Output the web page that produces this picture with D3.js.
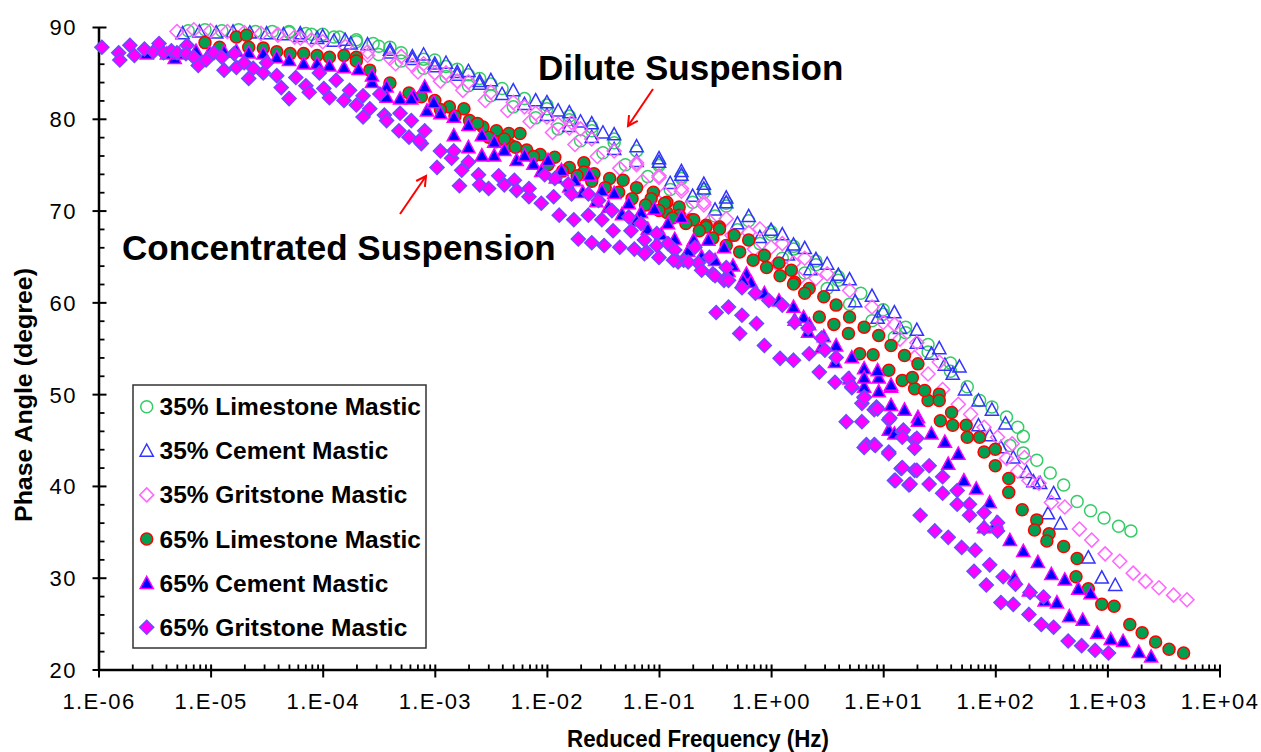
<!DOCTYPE html>
<html><head><meta charset="utf-8">
<script src="https://cdn.jsdelivr.net/npm/d3@7"></script>
<style>
body{margin:0;background:#fff}
svg{display:block}
text{font-family:"Liberation Sans",Arial,sans-serif}
</style>
</head><body>
<svg id="chart" width="1261" height="752"></svg>
<script>
// ---- DATA: each point = [log10(reduced frequency, Hz), phase angle (degree)] ----
const lime35 = [
[-5.2,89.6],[-5.05,89.7],[-4.9,89.6],[-4.75,89.7],[-4.6,89.5],[-4.45,89.5],[-4.3,89.4],[-4.15,89.3],[-4.0,89.2],[-3.85,88.9],[-3.7,88.6],[-3.55,88.2],[-3.4,87.8],
[-4.3,89.5],[-4.1,89.2],[-3.9,88.9],[-3.7,88.4],[-3.5,87.9],[-3.3,87.2],[-3.1,86.5],[-2.9,85.7],[-2.7,84.8],[-2.5,83.8],
[-3.0,86.4],[-2.8,85.4],[-2.6,84.4],[-2.4,83.3],[-2.2,82.2],[-2.0,81.1],[-1.8,79.9],[-1.6,78.7],[-1.4,77.4],
[-2.0,81.5],[-1.8,80.3],[-1.6,79.1],[-1.4,77.8],[-1.2,76.5],[-1.0,75.1],[-0.8,73.7],[-0.6,72.3],[-0.4,70.8],
[-1.0,74.9],[-0.8,73.5],[-0.6,72.0],[-0.4,70.5],[-0.2,68.9],[0.0,67.4],[0.2,65.8],[0.4,64.1],[0.6,62.4],
[0.0,67.7],[0.2,66.1],[0.4,64.5],[0.6,62.8],[0.8,61.0],[1.0,59.2],[1.2,57.3],[1.4,55.4],[1.6,53.4],
[1.0,58.7],[1.2,56.7],[1.4,54.6],[1.6,52.5],[1.75,50.8],[1.86,49.3],[1.97,48.6],[2.1,47.5],[2.2,46.4],[2.25,45.4],
[2.13,44.4],[2.25,43.6],[2.37,42.8],[2.49,41.4],[2.61,40.1],[2.73,38.3],[2.85,37.3],[2.97,36.5],[3.10,35.6],[3.21,35.1],
[-3.5,87.0],[-3.3,86.3],[-3.1,85.5],[-2.9,84.6],[-2.7,83.6],[-2.5,82.5],[-2.3,81.3],[-2.1,80.1],[-1.9,78.9],[-1.7,77.6],[-1.5,76.3],[-1.3,75.0],[-1.1,73.7],[-0.9,72.3],[-0.7,70.9],[-0.5,69.4],[-0.3,67.9],[-0.1,66.4],[0.1,64.8],[0.3,63.2],[0.5,61.5],[0.7,59.8],[0.9,58.0],[1.1,56.2]
];
const cem35 = [
[-5.25,89.3],[-5.1,89.5],[-4.95,89.4],[-4.8,89.5],[-4.65,89.4],[-4.5,89.3],[-4.35,89.2],[-4.2,89.0],[-4.05,88.8],[-3.9,88.5],[-3.75,88.2],
[-4.2,89.3],[-4.0,89.0],[-3.8,88.6],[-3.6,88.1],[-3.4,87.5],[-3.2,86.8],[-3.0,86.0],[-2.8,85.1],[-2.6,84.1],
[-3.1,87.0],[-2.9,86.1],[-2.7,85.2],[-2.5,84.2],[-2.3,83.1],[-2.1,82.0],[-1.9,80.9],[-1.7,79.7],[-1.5,78.5],
[-2.0,81.8],[-1.8,80.7],[-1.6,79.5],[-1.4,78.3],[-1.2,77.0],[-1.0,75.7],[-0.8,74.3],[-0.6,72.9],[-0.4,71.4],
[-1.0,75.3],[-0.8,73.9],[-0.6,72.4],[-0.4,70.9],[-0.2,69.4],[0.0,67.9],[0.2,66.3],[0.4,64.7],[0.6,63.0],
[0.1,67.4],[0.3,65.9],[0.5,64.2],[0.7,62.5],[0.9,60.7],[1.1,58.9],[1.3,57.0],[1.5,55.0],[1.68,53.0],
[1.0,59.0],[1.15,57.2],[1.3,55.6],[1.43,54.4],[1.55,53.2],[1.62,52.2],[1.73,50.5],[1.85,49.3],[1.97,48.3],[2.09,46.8],
[1.85,46.6],[1.95,45.5],[2.05,44.2],[2.16,43.1],[2.28,41.5],[2.34,40.5],[2.40,40.3],[2.52,39.2],
[2.47,37.0],[2.58,35.9],[2.83,32.2],[2.95,30.0],[3.07,29.2],
[-3.4,87.2],[-3.2,86.5],[-3.0,85.7],[-2.8,84.8],[-2.6,83.8],[-2.4,82.7],[-2.2,81.6],[-2.0,80.4],[-1.8,79.2],[-1.6,78.0],[-1.4,76.7],[-1.2,75.4],[-0.9,73.0],[-0.7,71.6],[-0.5,70.1],[-0.3,68.6],[-0.1,67.1],[0.15,65.2],[0.35,63.6],[0.55,61.9],[0.75,60.1],[0.95,58.3]
];
const grit35 = [
[-5.3,89.5],[-5.15,89.7],[-5.0,89.6],[-4.85,89.5],[-4.7,89.4],[-4.55,89.3],[-4.4,89.1],[-4.25,88.9],[-4.1,88.6],
[-4.4,89.2],[-4.2,88.8],[-4.0,88.4],[-3.8,87.9],[-3.6,87.3],[-3.4,86.6],[-3.2,85.8],[-3.0,85.0],[-2.8,84.1],
[-3.3,86.8],[-3.1,86.0],[-2.9,85.0],[-2.7,84.0],[-2.5,82.9],[-2.3,81.8],[-2.1,80.6],[-1.9,79.4],[-1.78,79.6],[-1.7,78.9],
[-2.2,81.3],[-2.0,80.2],[-1.8,79.0],[-1.6,77.8],[-1.4,76.5],[-1.2,75.2],[-1.0,73.8],[-0.8,72.4],[-0.6,70.9],
[-1.2,75.0],[-1.0,73.6],[-0.8,72.1],[-0.6,70.6],[-0.4,69.1],[-0.2,67.6],[0.0,66.0],[0.2,64.3],[0.4,62.6],
[-0.1,68.0],[0.1,66.4],[0.3,64.8],[0.5,63.1],[0.7,61.3],[0.9,59.5],[1.1,57.6],[1.3,55.6],[1.5,53.5],
[1.0,57.8],[1.15,56.0],[1.28,54.0],[1.40,52.2],[1.53,50.5],[1.67,48.9],[1.78,47.8],[1.9,46.4],[2.02,45.3],[2.15,44.6],[2.26,43.1],
[2.1,43.0],[2.2,41.6],[2.3,40.6],[2.39,40.3],[2.5,38.2],[2.62,37.7],[2.75,35.3],[2.86,34.1],[2.98,32.6],[3.11,31.8],[3.23,30.5],[3.34,29.6],[3.46,28.9],[3.59,28.1],[3.71,27.6],
[-3.6,86.9],[-3.35,86.0],[-3.15,85.1],[-2.95,84.1],[-2.75,83.1],[-2.55,82.0],[-2.35,80.9],[-2.15,79.7],[-1.95,78.5],[-1.75,77.2],[-1.55,75.9],[-1.35,74.6],[-1.15,73.2],[-0.95,71.8],[-0.75,70.3],[-0.55,68.8],[-0.35,67.3],[-0.15,65.8],[0.05,64.2],[0.25,62.6]
];
const lime65 = [
[-5.05,88.3],[-4.92,87.8],[-4.77,88.9],[-4.68,89.1],[-4.66,87.8],[-4.53,87.7],[-4.41,87.3],[-4.29,87.1],[-4.17,87.1],[-4.05,86.9],[-3.94,86.7],[-3.81,86.9],[-3.70,86.7],[-3.70,86.3],
[-3.58,85.3],[-3.40,83.9],[-3.23,82.8],[-3.12,82.4],[-3.0,82.0],[-2.87,81.3],[-2.74,81.1],[-2.69,79.8],[-2.57,79.1],[-2.45,78.7],[-2.34,78.4],[-2.24,78.4],
[-2.45,77.5],[-2.32,77.1],[-2.18,76.6],[-2.06,76.1],[-1.93,75.8],[-1.80,74.7],[-1.67,75.2],[-1.67,74.2],[-1.58,74.0],[-1.44,73.5],[-1.32,73.3],[-1.20,72.5],[-1.05,72.0],[-0.93,70.9],[-0.82,70.4],[-0.71,69.0],[-0.58,68.4],[-0.46,68.2],
[-0.93,69.8],[-0.82,69.5],[-1.07,71.3],[-0.95,70.8],
[-0.69,69.0],[-0.58,68.2],[-0.46,68.0],[-0.33,67.3],[-0.20,66.8],[-0.06,65.1],[0.07,64.3],[0.18,63.5],[0.21,62.2],[0.34,61.5],[0.47,60.6],[0.58,59.7],[0.70,58.4],[0.83,57.3],[0.96,56.4],[1.07,55.3],[1.19,54.2],[1.31,53.3],
[0.43,58.4],[0.56,57.6],[0.69,56.6],[0.79,54.4],[0.91,54.3],[1.05,52.6],[1.17,51.5],[1.28,50.6],[1.40,49.3],[1.51,47.1],[1.62,46.6],[1.75,45.3],[1.90,43.7],
[1.26,51.8],[1.37,50.4],[1.50,50.0],[1.50,49.3],[1.61,48.0],[1.74,46.6],[1.86,45.3],[2.0,44.0],[2.0,42.2],[2.12,40.8],[2.12,39.3],[2.24,37.4],[2.37,36.3],[2.35,35.2],[2.48,34.8],[2.46,34.0],[2.61,33.4],[2.73,32.1],[2.72,30.1],[2.83,28.8],[2.95,27.1],[3.06,26.9],[3.20,24.9],[3.31,24.0],[3.43,23.0],[3.55,22.2],[3.68,21.8],
[-2.95,81.0],[-2.82,80.3],[-2.62,79.5],[-2.52,78.0],[-2.38,77.8],[-2.28,76.9],[-2.12,75.9],[-1.99,75.0],[-1.86,74.3],[-1.73,73.8],[-1.60,73.2],[-1.48,72.5],[-1.36,72.0],[-1.24,71.3],[-1.12,70.6],[-1.00,70.0],[-0.88,69.2],[-0.76,68.6],[-0.64,67.8],[-0.52,67.0],[-0.40,66.2],[-0.28,65.5],[-0.16,64.6],[-0.04,63.8],[0.08,62.9],[0.20,62.0],[0.30,61.0]
];
const cem65 = [
[-5.57,87.1],[-5.39,87.1],[-5.32,86.6],[-5.28,87.1],[-5.13,87.4],[-5.01,87.2],[-4.88,87.3],[-4.77,87.4],[-4.66,87.2],[-4.53,87.1],[-4.41,86.7],[-4.30,86.4],[-4.17,86.0],[-4.05,86.0],[-3.94,85.8],[-3.81,85.6],[-3.68,85.4],
[-3.56,84.0],[-3.56,84.7],[-3.43,83.5],[-3.43,82.4],[-3.31,82.2],[-3.19,82.5],[-3.09,83.5],[-3.21,82.2],[-3.07,80.9],[-3.01,81.8],[-2.95,80.6],[-2.83,80.2],[-2.83,78.2],[-2.70,79.3],[-2.70,76.9],[-2.58,78.2],[-2.47,77.5],[-2.47,76.0],[-2.58,76.0],
[-2.27,75.5],[-2.12,75.1],[-1.99,75.5],[-1.87,74.4],[-1.75,73.3],[-1.62,73.9],[-1.51,72.2],[-1.40,71.9],[-1.27,70.8],[-1.16,69.8],[-1.04,70.2],[-0.92,68.6],[-0.80,69.3],[-0.69,66.8],[-0.56,66.8],[-0.42,66.0],
[-0.34,64.0],[-0.22,63.1],[-0.18,62.2],[-0.06,61.0],[0.07,60.2],[0.20,59.5],[0.29,58.4],[0.34,57.6],[0.47,56.3],[0.58,55.3],[0.72,54.0],[0.83,52.8],[0.96,51.8],[1.07,50.8],[1.19,48.3],[1.31,47.5],
[0.21,58.1],[0.33,56.8],[0.45,55.1],[0.57,53.5],[0.70,51.7],[0.83,50.8],[0.96,50.3],[1.07,48.8],[1.05,46.1],[1.10,45.7],
[0.83,51.8],[0.95,52.6],[1.07,51.0],[1.31,47.1],[1.43,45.7],[1.55,44.8],[1.67,43.5],[1.58,42.4],[1.72,40.6],[1.83,39.7],[1.95,38.2],[2.01,36.0],[2.13,34.1],[2.25,32.9],[2.38,31.7],[2.50,30.4],[2.62,29.8],[2.74,28.8],[2.85,28.3],
[1.90,35.5],[2.17,30.0],[2.30,28.6],[2.44,27.5],[2.55,27.3],[2.66,25.8],[2.78,25.4],[2.91,24.0],[3.03,23.3],[3.14,23.1],[3.28,21.9],[3.39,21.4],
[-2.38,76.6],[-2.20,76.0],[-2.05,74.3],[-1.92,73.6],[-1.80,72.6],[-1.68,72.0],[-1.56,71.0],[-1.45,70.4],[-1.33,69.6],[-1.20,68.9],[-1.10,68.0],[-0.98,67.4],[-0.86,66.9],[-0.74,65.6],[-0.62,65.0],[-0.50,64.6],[-0.38,63.4],[-0.25,62.4]
];
const grit65 = [
[-5.97,87.8],[-5.82,87.2],[-5.81,86.4],[-5.72,88.0],[-5.68,86.9],[-5.59,87.6],[-5.51,87.3],[-5.46,88.2],[-5.42,87.2],[-5.35,87.4],[-5.30,87.2],[-5.21,88.0],[-5.22,87.1],[-5.15,86.7],[-5.11,85.8],[-5.04,86.4],[-4.97,87.2],[-4.90,86.7],[-4.88,85.3],[-4.79,87.1],[-4.77,85.6],[-4.70,86.1],[-4.66,84.4],[-4.62,85.5],[-4.53,85.0],[-4.50,86.1],[-4.41,84.7],[-4.37,83.4],[-4.30,82.2],[-4.24,84.5],[-4.15,83.6],[-4.12,82.9],[-4.03,85.0],[-3.99,83.3],[-3.94,82.3],[-3.88,84.2],[-3.81,82.0],[-3.76,83.1],[-3.70,81.5],[-3.64,82.5],[-3.64,80.2],[-3.58,81.1],[-3.49,82.7],[-3.45,80.4],[-3.43,79.8],[-3.32,78.7],[-3.31,80.6],[-3.23,78.0],[-3.21,79.8],[-3.12,77.3],[-3.09,78.7],
[-3.14,77.6],[-2.98,74.7],[-2.95,76.5],[-2.85,75.7],[-2.83,76.5],[-2.76,74.4],[-2.78,72.7],[-2.70,75.3],[-2.61,73.9],[-2.60,72.8],[-2.52,72.4],[-2.43,73.8],[-2.38,72.8],[-2.29,73.3],[-2.27,72.2],[-2.16,71.5],[-2.16,72.4],[-2.05,70.8],[-2.02,73.9],[-1.93,73.5],[-1.94,71.5],[-1.81,72.9],[-1.78,71.8],[-1.89,69.5],[-1.76,69.0],[-1.63,69.5],[-1.63,71.8],[-1.54,71.1],[-1.51,69.0],[-1.42,70.0],[-1.41,67.8],[-1.27,69.3],[-1.25,67.8],[-1.16,68.6],[-1.13,66.8],[-1.02,67.5],[-1.02,66.2],[-0.92,66.4],[-0.86,65.7],[-0.78,64.6],[-0.68,66.0],[-0.65,64.3],[-0.55,64.9],[-0.52,63.1],[-0.42,62.4],[-0.40,63.8],
[-1.72,66.9],[-1.60,66.5],[-1.49,66.2],[-1.35,66.0],[-1.22,65.8],[-1.11,65.5],[-1.00,64.9],[-0.83,64.4],
[-1.13,65.3],[-0.87,64.6],[-0.74,64.4],[-0.62,63.5],[-0.50,62.9],[-0.38,62.4],[-0.26,61.6],[-0.14,61.0],[-0.02,60.2],[0.10,59.7],[0.21,57.8],[0.33,57.2],[0.45,56.1],[0.48,54.8],[0.58,54.0],[0.69,51.7],[0.72,50.7],[0.83,49.7],[0.94,48.6],[0.81,49.0],[0.92,48.3],[1.05,47.2],[1.17,45.9],[1.28,45.0],
[-0.49,58.9],[-0.38,59.5],[-0.28,56.6],[-0.26,58.6],[-0.13,57.7],[-0.06,55.3],[0.08,53.9],[0.20,53.7],[0.34,54.4],[0.43,52.4],[0.57,51.3],[0.67,47.0],[0.81,47.0],[0.85,44.5],[0.92,44.5],[1.05,43.7],[1.16,41.9],[1.28,41.7],[1.10,40.6],[1.23,40.1],
[0.72,50.8],[0.83,49.6],[0.95,48.4],[1.06,47.4],[1.18,46.1],[1.17,45.3],[1.30,45.2],[1.28,44.1],[1.41,42.2],[1.53,41.0],[1.66,39.5],[1.77,38.0],[1.90,37.1],[2.02,36.0],[2.02,35.1],
[0.83,44.2],[0.93,44.4],[1.05,43.5],[1.17,42.0],[1.11,40.6],[1.24,40.2],[1.30,41.7],[1.41,40.2],[1.53,39.2],[1.66,38.0],[1.77,36.8],[1.90,35.4],
[1.33,36.8],[1.46,35.1],[1.58,34.4],[1.70,33.3],[1.82,33.0],[1.81,30.7],[1.92,29.2],[1.95,31.4],[2.07,30.1],[2.18,29.3],[2.31,28.4],[2.43,27.9],[2.05,27.3],[2.16,27.1],[2.30,26.0],[2.41,24.9],[2.52,24.6],[2.65,23.1],[2.77,22.6],[2.89,22.1],[3.01,21.8]
];

const seriesNames = ["35% Limestone Mastic","35% Cement Mastic","35% Gritstone Mastic","65% Limestone Mastic","65% Cement Mastic","65% Gritstone Mastic"];
const seriesData = [lime35, cem35, grit35, lime65, cem65, grit65];
const xTickValues = [1e-6,1e-5,1e-4,1e-3,1e-2,1e-1,1e0,1e1,1e2,1e3,1e4];
const xTickLabels = ["1.E-06","1.E-05","1.E-04","1.E-03","1.E-02","1.E-01","1.E+00","1.E+01","1.E+02","1.E+03","1.E+04"];
const yTickValues = [20,30,40,50,60,70,80,90];
const xTitle = "Reduced Frequency (Hz)";
const yTitle = "Phase Angle (degree)";
const noteDilute = "Dilute Suspension";
const noteConc = "Concentrated Suspension";

// ---- STYLES ----
const styles = [
  {shape:"circle",  fill:"none",    stroke:"#33cc66"},
  {shape:"triangle",fill:"none",    stroke:"#3333ff"},
  {shape:"diamond", fill:"none",    stroke:"#ff66ff"},
  {shape:"circle",  fill:"#00a050", stroke:"#ff0000"},
  {shape:"triangle",fill:"#0000ff", stroke:"#ff00ff"},
  {shape:"diamond", fill:"#ff00ff", stroke:"#6a4cff"}
];
function shapePath(s){
  if(s==="circle") return "M6,0A6,6 0 1,1 -6,0A6,6 0 1,1 6,0Z";
  if(s==="triangle") return "M0,-6.8L6.6,5.4L-6.6,5.4Z";
  return "M0,-7L7,0L0,7L-7,0Z";
}

const svg = d3.select("#chart");
const X0=98.5, X1=1219.5, Y0=669.5, Y1=27;
const x = d3.scaleLog().domain([1e-6,1e4]).range([X0,X1]);
const y = d3.scaleLinear().domain([20,90]).range([Y0,Y1]);

// minor ticks
const xMinor=[];
for(let e=-6;e<4;e++){ for(let m=2;m<=9;m++) xMinor.push(m*Math.pow(10,e)); }
const yMinor=d3.range(22,90,2).filter(v=>v%10!==0);

const gx = svg.append("g").attr("transform",`translate(0,${Y0})`);
gx.call(d3.axisBottom(x).tickValues(xMinor).tickSize(-5).tickSizeOuter(0).tickFormat(""));
gx.selectAll(".tick line").attr("stroke","#000").attr("stroke-width",1.8);
gx.select(".domain").remove();
const gx2 = svg.append("g").attr("transform",`translate(0,${Y0})`);
gx2.call(d3.axisBottom(x).tickValues(xTickValues).tickSize(8).tickSizeOuter(0).tickFormat((d,i)=>xTickLabels[i]));
gx2.selectAll(".tick line").attr("y1",-5).attr("stroke","#000").attr("stroke-width",2);
gx2.selectAll(".tick text").attr("y",39.5).attr("dy",0).attr("fill","#000")
   .style("font-size","22px").style("letter-spacing","1.4px");
gx2.select(".domain").attr("stroke","#000").attr("stroke-width",2.5);

const gy = svg.append("g").attr("transform",`translate(${X0},0)`);
gy.call(d3.axisLeft(y).tickValues(yMinor).tickSize(-6).tickSizeOuter(0).tickFormat(""));
gy.selectAll(".tick line").attr("stroke","#000").attr("stroke-width",1.8);
gy.select(".domain").remove();
const gy2 = svg.append("g").attr("transform",`translate(${X0},0)`);
gy2.call(d3.axisLeft(y).tickValues(yTickValues).tickSize(6).tickSizeOuter(0).tickFormat(d3.format("d")));
gy2.selectAll(".tick line").attr("x1",8).attr("stroke","#000").attr("stroke-width",2);
gy2.selectAll(".tick text").attr("x",-21.5).attr("dy","0.36em").attr("fill","#000")
   .style("font-size","22px").style("letter-spacing","1.5px");
gy2.select(".domain").attr("stroke","#000").attr("stroke-width",2.5);
svg.selectAll("g").attr("font-family",null).attr("font-size",null);

// titles
svg.append("text").attr("x",698).attr("y",747).attr("text-anchor","middle")
  .attr("font-weight","bold").style("font-size","24px")
  .attr("textLength",262).attr("lengthAdjust","spacingAndGlyphs").text(xTitle);
svg.append("text").attr("transform","translate(32,395) rotate(-90)").attr("text-anchor","middle")
  .attr("font-weight","bold").style("font-size","24px")
  .attr("textLength",254).attr("lengthAdjust","spacingAndGlyphs").text(yTitle);

// points
const plot = svg.append("g");
seriesData.forEach((data,i)=>{
  const st=styles[i];
  plot.append("g").selectAll("path").data(data).join("path")
    .attr("transform",d=>`translate(${x(Math.pow(10,d[0]))},${y(d[1])})`)
    .attr("d",shapePath(st.shape))
    .attr("fill",st.fill).attr("stroke",st.stroke).attr("stroke-width",1.5);
});

// annotations
svg.append("text").attr("x",538).attr("y",80).attr("font-weight","bold").style("font-size","35px").text(noteDilute);
svg.append("text").attr("x",122).attr("y",260).attr("font-weight","bold").style("font-size","35px").text(noteConc);
function arrow(x1,y1,x2,y2){
  const g=svg.append("g").attr("stroke","#ff0000").attr("stroke-width",2).attr("fill","none");
  g.append("line").attr("x1",x1).attr("y1",y1).attr("x2",x2).attr("y2",y2);
  const a=Math.atan2(y1-y2,x1-x2), L=11, w=0.5;
  g.append("path").attr("d",`M${x2+L*Math.cos(a+w)},${y2+L*Math.sin(a+w)}L${x2},${y2}L${x2+L*Math.cos(a-w)},${y2+L*Math.sin(a-w)}`);
}
arrow(653,89,628,126);
arrow(400,214,426,176);

// legend
const lg = svg.append("g");
lg.append("rect").attr("x",133).attr("y",385).attr("width",293).attr("height",263)
  .attr("fill","#fff").attr("stroke","#333").attr("stroke-width",1.5);
seriesNames.forEach((n,i)=>{
  const cy=406.7+i*44.1, st=styles[i];
  lg.append("path").attr("transform",`translate(146.7,${cy})`).attr("d",shapePath(st.shape))
    .attr("fill",st.fill).attr("stroke",st.stroke).attr("stroke-width",1.5);
  lg.append("text").attr("x",159.5).attr("y",cy+8.5).attr("font-weight","bold").style("font-size","24.5px").text(n);
});
</script>
</body></html>
